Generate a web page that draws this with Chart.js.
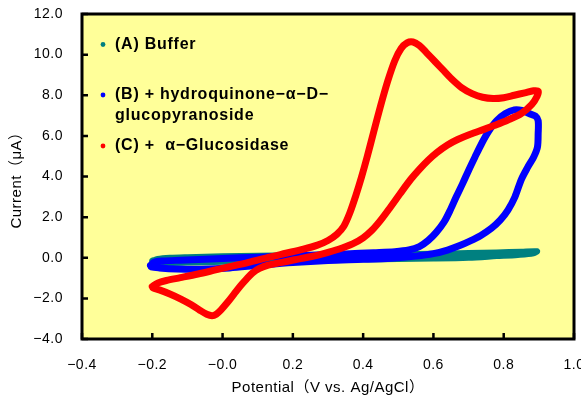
<!DOCTYPE html>
<html>
<head>
<meta charset="utf-8">
<script src="https://cdn.jsdelivr.net/npm/chart.js@4.4.1/dist/chart.umd.min.js"></script>
<style>
  html, body { margin: 0; padding: 0; background: #ffffff; }
  #wrap { width: 581px; height: 402px; position: relative; }
</style>
</head>
<body>
<div id="wrap"><canvas id="c" width="581" height="402"></canvas></div>
<script>
// ---- Data ----
const seriesLabels = [
  ["(A) Buffer"],
  ["(B) + hydroquinone−α−D−", "glucopyranoside"],
  ["(C) +  α−Glucosidase"]
];

// (A) Buffer
const potentialA = [-0.200, -0.185, -0.150, -0.100, 0.000, 0.100, 0.200, 0.300, 0.400, 0.500,
                    0.600, 0.700, 0.780, 0.850, 0.895,
                    0.885, 0.840, 0.780, 0.700, 0.600, 0.500, 0.400, 0.300, 0.200, 0.100,
                    0.000, -0.100, -0.160, -0.195, -0.200];
const currentA   = [-0.15, -0.06, 0.00, 0.03, 0.07, 0.10, 0.12, 0.14, 0.16, 0.18,
                    0.20, 0.23, 0.26, 0.30, 0.32,
                    0.22, 0.14, 0.08, 0.00, -0.04, -0.06, -0.08, -0.11, -0.14, -0.17,
                    -0.20, -0.24, -0.26, -0.24, -0.15];

// (B) + hydroquinone-α-D-glucopyranoside
const potentialB = [-0.205, -0.195, -0.170, -0.120, -0.050, 0.050, 0.150, 0.250, 0.350, 0.430,
                    0.490, 0.530, 0.560, 0.585, 0.608, 0.630, 0.648, 0.665, 0.683, 0.700,
                    0.718, 0.738, 0.758, 0.780, 0.805, 0.830, 0.852, 0.872, 0.890,
                    0.898, 0.898, 0.896, 0.885, 0.868, 0.850, 0.832, 0.812, 0.790, 0.765,
                    0.735, 0.705, 0.675, 0.640, 0.600, 0.550, 0.480, 0.400, 0.300, 0.200,
                    0.100, 0.020, -0.060, -0.130, -0.180, -0.203, -0.205];
const currentB   = [-0.38, -0.22, -0.16, -0.12, -0.07, 0.00, 0.06, 0.12, 0.19, 0.25,
                    0.30, 0.38, 0.55, 0.85, 1.25, 1.75, 2.35, 3.00, 3.65, 4.30,
                    4.95, 5.65, 6.25, 6.75, 7.10, 7.28, 7.25, 7.10, 6.98,
                    6.75, 6.10, 5.45, 4.95, 4.45, 3.85, 3.00, 2.35, 1.85, 1.45,
                    1.10, 0.83, 0.60, 0.38, 0.20, 0.08, -0.02, -0.08, -0.14, -0.24,
                    -0.38, -0.50, -0.56, -0.55, -0.50, -0.45, -0.38];

// (C) + α-Glucosidase
const potentialC = [-0.200, -0.185, -0.160, -0.120, -0.070, -0.020, 0.030, 0.080, 0.130, 0.180,
                    0.230, 0.270, 0.300, 0.325, 0.345, 0.362, 0.378, 0.395, 0.412, 0.430,
                    0.450, 0.470, 0.490, 0.508, 0.525, 0.542, 0.560, 0.580, 0.605, 0.630,
                    0.655, 0.680, 0.710, 0.740, 0.770, 0.800, 0.830, 0.860, 0.885, 0.898,
                    0.895, 0.880, 0.850, 0.812, 0.775, 0.744, 0.705, 0.669, 0.640, 0.610,
                    0.585, 0.560, 0.535, 0.505, 0.478, 0.450, 0.425, 0.400, 0.370, 0.330,
                    0.290, 0.250, 0.205, 0.165, 0.130, 0.105, 0.085, 0.068, 0.050, 0.032,
                    0.013, -0.005, -0.018, -0.030, -0.045, -0.065, -0.090, -0.120, -0.150, -0.180,
                    -0.198, -0.200];
const currentC   = [-1.42, -1.25, -1.12, -0.98, -0.80, -0.60, -0.40, -0.20, 0.02, 0.22,
                    0.42, 0.62, 0.85, 1.15, 1.55, 2.20, 3.00, 3.95, 5.00, 6.20,
                    7.50, 8.70, 9.70, 10.30, 10.58, 10.62, 10.45, 10.10, 9.65, 9.20,
                    8.75, 8.38, 8.08, 7.90, 7.84, 7.88, 8.00, 8.12, 8.22, 8.20,
                    7.95, 7.55, 7.10, 6.78, 6.52, 6.32, 6.08, 5.82, 5.55, 5.18,
                    4.80, 4.35, 3.85, 3.15, 2.50, 1.85, 1.35, 0.98, 0.68, 0.42,
                    0.22, 0.05, -0.10, -0.24, -0.36, -0.52, -0.75, -1.05, -1.40, -1.80,
                    -2.22, -2.58, -2.78, -2.85, -2.78, -2.58, -2.30, -2.02, -1.78, -1.58,
                    -1.48, -1.42];

const seriesColors = ["#008080", "#0000FF", "#FF0000"];

const xTickMin = -0.4, xTickMax = 1.0, xTickStep = 0.2;
const yTickMin = -4.0, yTickMax = 12.0, yTickStep = 2.0;

// ---- Build ----
function pts(xs, ys) { return xs.map((x, i) => ({ x: x, y: ys[i] })); }
function fmt(v) { return v.toFixed(1).replace('-', '−'); }

const FONT = "'Liberation Sans', 'Noto Sans CJK JP', Arial, sans-serif";

const framePlugin = {
  id: 'frame',
  beforeDraw(chart) {
    const { ctx, chartArea: a } = chart;
    if ('letterSpacing' in ctx) ctx.letterSpacing = '0.5px';
    ctx.save();
    ctx.fillStyle = '#FFFF99';
    ctx.fillRect(a.left, a.top, a.right - a.left, a.bottom - a.top);
    ctx.restore();
  },
  afterDraw(chart) {
    const { ctx, chartArea: a, scales } = chart;
    ctx.save();
    ctx.strokeStyle = '#000';
    ctx.lineWidth = 3;
    ctx.strokeRect(a.left, a.top, a.right - a.left, a.bottom - a.top);
    ctx.lineWidth = 2.5;
    ctx.beginPath();
    scales.x.ticks.forEach(t => {
      const px = scales.x.getPixelForValue(t.value);
      ctx.moveTo(px, a.bottom); ctx.lineTo(px, a.bottom - 6);
    });
    scales.y.ticks.forEach(t => {
      const py = scales.y.getPixelForValue(t.value);
      ctx.moveTo(a.left, py); ctx.lineTo(a.left + 6, py);
    });
    ctx.stroke();

    // legend inside plot
    const rows = [[44.5], [95, 115.5], [146]];
    ctx.font = "bold 16px " + FONT;
    ctx.textBaseline = 'middle';
    ctx.textAlign = 'left';
    if ('letterSpacing' in ctx) ctx.letterSpacing = '0.75px';
    chart.data.datasets.forEach((ds, i) => {
      const ys = rows[i];
      ctx.fillStyle = ds.borderColor;
      ctx.beginPath();
      ctx.arc(103, ys[0], 2.4, 0, Math.PI * 2);
      ctx.fill();
      ctx.fillStyle = '#000';
      seriesLabels[i].forEach((line, j) => ctx.fillText(line, 115, ys[j]));
    });
    ctx.restore();
  }
};

const datasets = [
  { label: seriesLabels[0].join(' '), data: pts(potentialA, currentA), order: 3, borderWidth: 6 },
  { label: seriesLabels[1].join(' '), data: pts(potentialB, currentB), order: 2, borderWidth: 7 },
  { label: seriesLabels[2].join(' '), data: pts(potentialC, currentC), order: 1, borderWidth: 7 }
].map((d, i) => Object.assign(d, {
  borderColor: seriesColors[i],
  backgroundColor: seriesColors[i],
  showLine: true,
  pointRadius: 0,
  tension: 0.3,
  borderJoinStyle: 'round',
  borderCapStyle: 'round',
  fill: false
}));

new Chart(document.getElementById('c'), {
  type: 'scatter',
  data: { datasets },
  options: {
    responsive: false,
    animation: false,
    devicePixelRatio: 1,
    layout: { padding: { top: 14, right: 7, left: 0, bottom: 0 } },
    plugins: { legend: { display: false }, tooltip: { enabled: false } },
    scales: {
      x: {
        type: 'linear', min: xTickMin, max: xTickMax,
        ticks: { stepSize: xTickStep, color: '#000', padding: 18, maxRotation: 0,
                 font: { family: FONT, size: 14 }, callback: v => fmt(v) },
        grid: { display: false, drawTicks: false },
        border: { display: false },
        title: { display: true, text: 'Potential（V vs. Ag/AgCl）', color: '#000',
                 font: { family: FONT, size: 15 }, padding: { top: 0, bottom: 5 } },
        afterFit(s) { s.height = 63; s.paddingLeft = 0; s.paddingRight = 0; }
      },
      y: {
        type: 'linear', min: yTickMin, max: yTickMax,
        ticks: { stepSize: yTickStep, color: '#000', padding: 19,
                 font: { family: FONT, size: 14 }, callback: v => fmt(v) },
        grid: { display: false, drawTicks: false },
        border: { display: false },
        title: { display: true, text: 'Current（μA）', color: '#000',
                 font: { family: FONT, size: 15 }, padding: { top: 8, bottom: 0 } },
        afterFit(s) { s.width = 82; s.paddingTop = 0; s.paddingBottom = 0; }
      }
    }
  },
  plugins: [framePlugin]
});
</script>
</body>
</html>
